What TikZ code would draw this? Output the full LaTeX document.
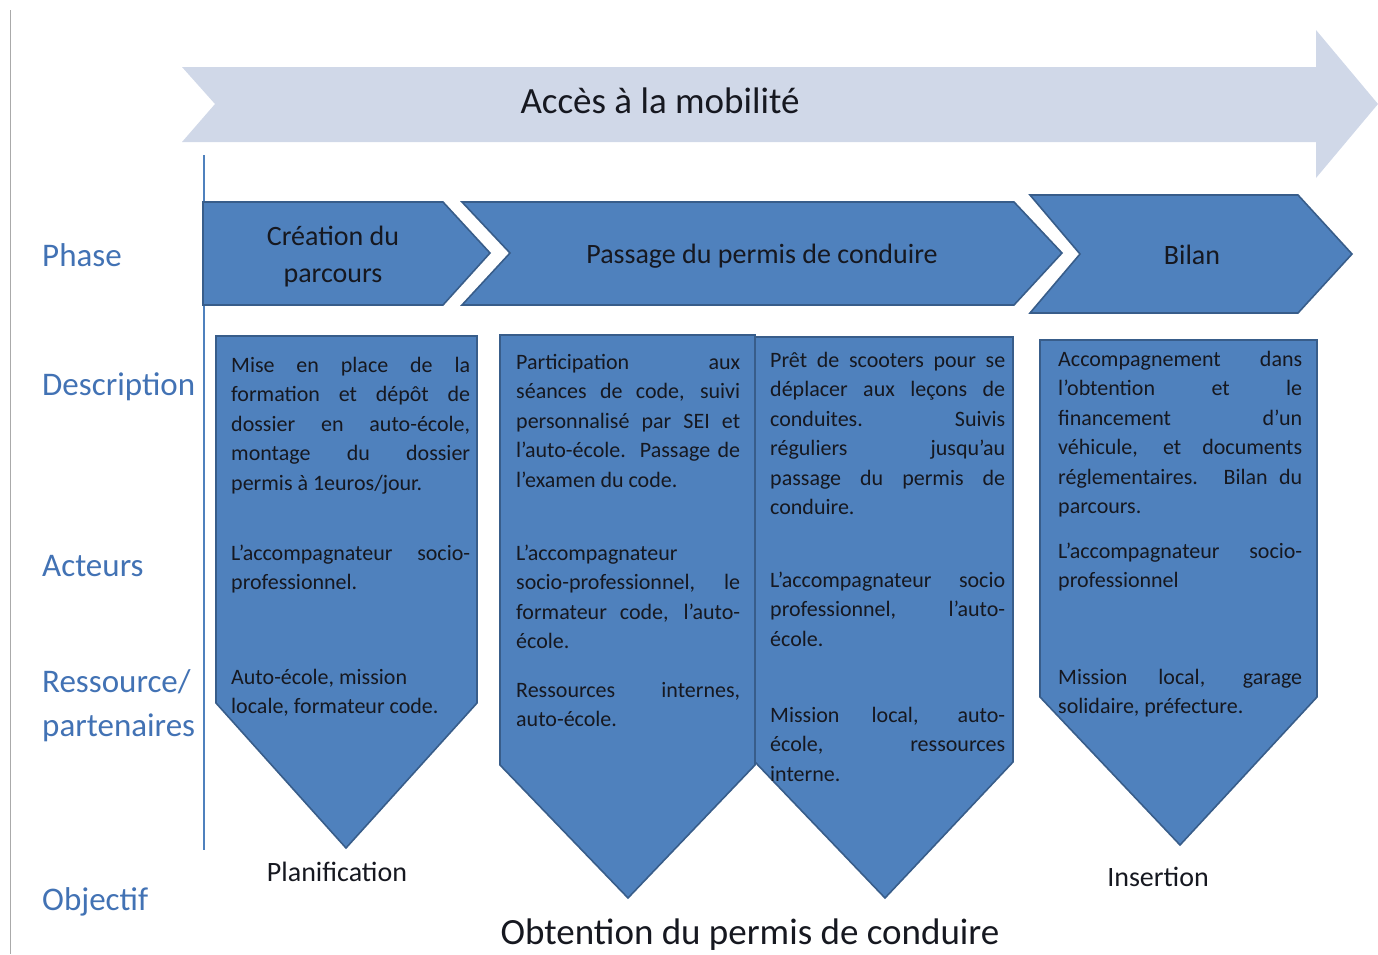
\documentclass[tikz,border=0pt]{standalone}
\usepackage{fontspec}
\setmainfont{Carlito}
\usetikzlibrary{positioning}
\definecolor{palebar}{RGB}{208,216,232}
\definecolor{stepfill}{RGB}{79,129,189}
\definecolor{stepline}{RGB}{56,93,138}
\definecolor{rowblue}{RGB}{66,114,180}
\definecolor{railgray}{RGB}{170,170,170}
\definecolor{inktext}{RGB}{22,24,32}
\tolerance=10000
\hyphenpenalty=10000
\tikzset{
x=1pt, y=-1pt, % one unit per pixel of the layout, y going down
stepbox/.style={fill=stepfill, draw=stepline, line width=1.6pt}, % the blue chevrons and down arrows
rowlabel/.style={anchor=west, inner sep=0pt, text=rowblue, align=left, font=\fontsize{33}{44}\selectfont}, % labels of the rows
phasetext/.style={inner sep=0pt, text=inktext, align=center, font=\fontsize{28}{37}\selectfont}, % text on the chevrons
celltext/.style={anchor=base west, inner sep=0pt, text=inktext, align=justify, font=\fontsize{22}{29.5}\selectfont}, % text in the down arrows
bigtext/.style={inner sep=0pt, text=inktext, font=\fontsize{37}{44}\selectfont}, % title and goal
}

\begin{document}
\begin{tikzpicture}
  \useasboundingbox (0,0) rectangle (1378,954);
  % rails
  \draw[railgray, line width=1pt] (10,10) -- (10,954);
  % big arrow on top
  \fill[palebar] (182,67) -- (1316,67) -- (1316,30) -- (1378,104) -- (1316,178)
    -- (1316,142) -- (182,142) -- (215,104) -- cycle;
  \node[bigtext] (mobilite) at (660,101) {Accès à la mobilité};
  \draw[stepfill, line width=1.2pt] (204,155) -- (204,850);

  % phases
  \draw[stepbox] (203,202) -- (443,202) -- (490,253) -- (443,305) -- (203,305) -- cycle;
  \draw[stepbox] (462,202) -- (1014,202) -- (1062,253) -- (1014,305) -- (462,305) -- (510,253) -- cycle;
  \draw[stepbox] (1030,195) -- (1298,195) -- (1352,254) -- (1298,313) -- (1030,313) -- (1080,254) -- cycle;
  \node[phasetext] (creation) at (333,257) {Création du\\parcours};
  \node[phasetext] (passage) at (762,256) {Passage du permis de conduire};
  \node[phasetext] (bilan) at (1192,255) {Bilan};

  % down arrows
  \draw[stepbox] (216,336) -- (477,336) -- (477,703) -- (346,848) -- (216,703) -- cycle;
  \draw[stepbox] (500,335) -- (755,335) -- (755,765) -- (628,898) -- (500,765) -- cycle;
  \draw[stepbox] (755,337) -- (1013,337) -- (1013,762) -- (885,898) -- (755,762) -- cycle;
  \draw[stepbox] (1040,340) -- (1317,340) -- (1317,697) -- (1180,845) -- (1040,697) -- cycle;

  % row labels
  \node[rowlabel] (phase) at (42,255) {Phase};
  \node[rowlabel] (description) at (42,387) {Description};
  \node[rowlabel] (acteurs) at (42,566) {Acteurs};
  \node[rowlabel] (ressource) at (42,706) {Ressource/\\partenaires};
  \node[rowlabel] (objectif) at (42,902) {Objectif};

  % creation du parcours
  \node[celltext, text width=239pt] (desc1) at (231,372) {Mise en place de la\linebreak formation et dépôt de\linebreak dossier en auto-école,\linebreak montage du dossier\linebreak permis à 1euros/jour.};
  \node[celltext, text width=239pt] (act1) at (231,560) {L’accompagnateur socio-\linebreak professionnel.};
  \node[celltext, text width=239pt] (res1) at (231,684) {Auto-école, mission\newline locale, formateur code.};

  % code
  \node[celltext, text width=224pt] (desc2) at (516,369) {Participation aux\linebreak séances de code, suivi\linebreak personnalisé par SEI et\linebreak l’auto-école. Passage de\linebreak l’examen du code.};
  \node[celltext, text width=224pt] (act2) at (516,560) {L’accompagnateur\newline socio-professionnel, le\linebreak formateur code, l’auto-\linebreak école.};
  \node[celltext, text width=224pt] (res2) at (516,697) {Ressources internes,\linebreak auto-école.};

  % conduite
  \node[celltext, text width=235pt] (desc3) at (770,367) {Prêt de scooters pour se\linebreak déplacer aux leçons de\linebreak conduites. Suivis\linebreak réguliers jusqu’au\linebreak passage du permis de\linebreak conduire.};
  \node[celltext, text width=235pt] (act3) at (770,587) {L’accompagnateur socio\linebreak professionnel, l’auto-\linebreak école.};
  \node[celltext, text width=235pt] (res3) at (770,722) {Mission local, auto-\linebreak école, ressources\linebreak interne.};

  % bilan
  \node[celltext, text width=244pt] (desc4) at (1058,366) {Accompagnement dans\linebreak l’obtention et le\linebreak financement d’un\linebreak véhicule, et documents\linebreak réglementaires. Bilan du\linebreak parcours.};
  \node[celltext, text width=244pt] (act4) at (1058,558) {L’accompagnateur socio-\linebreak professionnel};
  \node[celltext, text width=244pt] (res4) at (1058,684) {Mission local, garage\linebreak solidaire, préfecture.};

  % goals
  \node[phasetext] (planif) at (337,872) {Planification};
  \node[phasetext] (insertion) at (1158,877) {Insertion};
  \node[bigtext] (obtention) at (750,935) {Obtention du permis de conduire};
\end{tikzpicture}
\end{document}
